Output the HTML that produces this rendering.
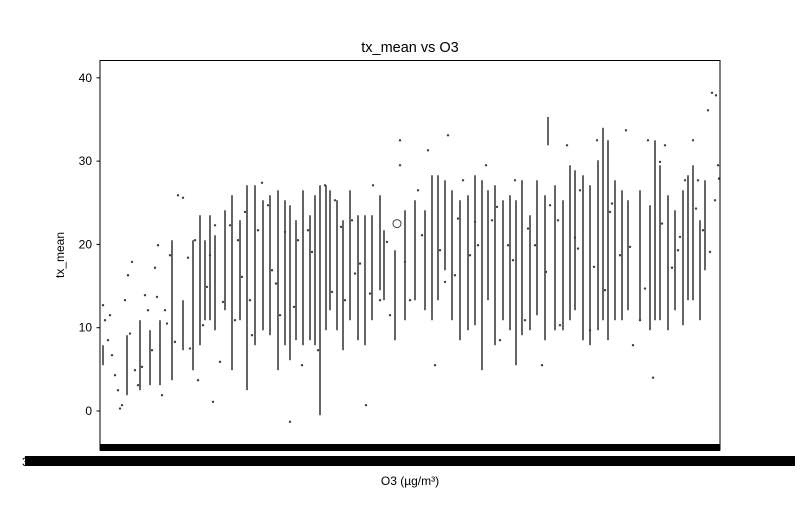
<!DOCTYPE html>
<html><head><meta charset="utf-8"><style>
body{margin:0;background:#fff}
svg text{font-family:"Liberation Sans",sans-serif;fill:#000}
</style></head><body>
<svg id="chart" width="800" height="500" xmlns="http://www.w3.org/2000/svg">
<rect width="800" height="500" fill="#fff"/>
<g id="marks"></g>
<text x="410" y="52" font-size="14.5" text-anchor="middle">tx_mean vs O3</text>
<text transform="translate(64,255) rotate(-90)" font-size="12" text-anchor="middle">tx_mean</text>
<text x="410" y="485" font-size="12" text-anchor="middle">O3 (µg/m³)</text>
<g id="yaxis"></g>
<rect x="100" y="444" width="620" height="7" fill="#000"/>
<rect x="25" y="456" width="770" height="10" fill="#000"/>
<text x="22" y="466" font-size="12">3</text>
<rect x="100" y="60.5" width="620" height="389.5" fill="none" stroke="#000" stroke-width="1"/>
</svg>
<script>
// categories are O3 category indices (0..620)
const yTicks=[0,10,20,30,40];
const lineCat=[3,27,40,50,60,72,83,93,100,105,110,115,125,132,140,147,155,163,170,178,185,190,196,203,210,215,220,226,230,237,243,250,258,265,272,280,284,295,305,315,325,332,338,345,352,360,368,375,382,388,395,403,410,416,422,430,437,445,448,455,463,470,475,483,490,498,503,508,515,522,528,540,550,555,560,568,575,583,588,593,600,605];
const lineHi=[7.9,9.1,10.9,9.7,10.9,20.5,13.3,20.5,23.5,20.5,23.5,21.1,24.1,25.9,22.9,27.1,27.1,25.3,25.9,26.5,25.3,24.7,22.9,26.5,23.5,25.9,27.1,27.1,26.5,25.3,22.9,26.5,23.5,23.5,23.5,25.9,21.7,19.3,24.1,25.3,24.1,28.3,28.3,27.7,26.5,25.3,25.9,28.3,27.7,26.5,27.1,25.3,25.9,25.3,27.7,23.5,27.7,25.9,35.3,27.1,25.3,29.5,28.9,28.3,27.1,30.1,34.0,32.5,27.7,26.5,25.3,26.5,24.7,32.5,29.5,25.9,24.1,26.5,28.3,29.5,22.9,27.7];
const lineLo=[5.5,1.9,2.5,3.1,3.1,3.7,7.3,4.9,7.9,10.9,10.9,9.7,12.1,4.9,10.9,2.5,7.9,9.7,9.1,4.9,7.9,6.1,8.5,7.9,8.5,7.9,-0.5,9.7,12.1,9.7,7.3,10.9,8.5,7.9,10.9,14.5,13.3,8.5,10.9,13.3,12.1,10.9,13.3,16.9,10.9,8.5,9.7,10.3,4.9,13.3,7.9,10.9,9.7,5.5,9.1,9.7,11.5,8.5,31.9,9.7,9.7,10.9,12.1,8.5,7.9,9.7,10.9,8.5,10.9,10.9,12.1,10.9,9.7,10.9,10.9,9.7,12.1,10.3,13.3,13.3,10.9,16.9];
const dotCat=[3,5,8,12,15,18,22,25,28,32,35,38,45,48,52,55,58,62,65,70,78,83,88,95,98,103,110,113,115,120,130,135,138,145,150,158,162,168,172,180,185,190,198,202,208,218,225,235,245,252,260,266,273,280,290,300,310,318,328,335,340,348,355,363,370,378,386,392,400,408,415,425,435,442,450,460,467,475,480,490,497,505,510,520,526,533,540,548,553,560,565,572,578,585,593,598,603,608,612,616,615,618,619,300,
  10,20,30,42,57,67,75,90,107,123,142,152,176,194,212,232,241,255,270,287,305,322,345,358,375,397,413,428,446,458,478,494,512,530,545,562,580,596,610];
const dotVal=[12.7,10.9,8.5,6.7,4.3,2.5,0.7,13.3,16.3,17.9,4.9,3.1,13.9,12.1,7.3,17.2,19.9,1.9,12.1,18.7,25.9,25.6,18.4,20.5,3.7,10.3,18.7,1.1,22.3,5.9,22.3,10.9,20.5,23.9,13.3,21.7,27.4,24.7,16.9,11.5,21.5,-1.3,20.5,5.5,21.7,7.3,27.1,25.3,13.3,22.9,17.7,0.7,27.1,13.3,11.5,29.5,13.3,26.5,31.3,5.5,19.3,33.1,16.3,27.7,18.7,19.9,29.5,22.9,8.5,19.9,27.7,10.9,19.9,5.5,24.7,10.3,31.9,20.8,26.5,9.7,32.5,14.5,23.9,18.7,33.7,7.9,10.9,32.5,4.0,29.9,31.9,17.2,19.3,27.7,32.5,27.7,21.7,36.1,38.2,37.9,25.3,29.5,27.9,32.5,
  11.5,0.3,9.3,5.3,13.7,10.5,8.3,7.5,14.9,13.1,16.1,9.1,15.3,12.5,19.1,14.3,22.1,16.5,14.1,20.3,17.9,21.1,15.5,23.1,22.7,24.5,18.1,21.9,16.7,22.9,19.5,17.3,24.9,19.7,14.7,22.5,20.9,24.3,19.1];
const outlierCat=[297];
const outlierVal=[22.5];

const X0=100,X1=720,Y0=60,Y1=450,VMIN=-4.68,VMAX=42.14;
const xs=c=>X0+c*(X1-X0)/620;
const ys=v=>Y1-(v-VMIN)*(Y1-Y0)/(VMAX-VMIN);
const NS='http://www.w3.org/2000/svg';
const g=document.getElementById('marks');
function mk(tag,attrs,parent){const e=document.createElementNS(NS,tag);for(const k in attrs)e.setAttribute(k,attrs[k]);parent.appendChild(e);return e;}
lineCat.forEach((c,i)=>{
  const hi=ys(lineHi[i]),lo=ys(lineLo[i]);
  const r=mk('rect',{x:xs(c)-0.8,y:hi,width:1.6,height:lo-hi,fill:'#3f3f3f'},g);
  
  
});
dotCat.forEach((c,i)=>{
  const d=mk('circle',{cx:xs(c),cy:ys(dotVal[i]),r:1.2,fill:'#3f3f3f'},g);
  
  
});
outlierCat.forEach((c,i)=>{
  const o=mk('circle',{cx:xs(c),cy:ys(outlierVal[i]),r:4,fill:'none',stroke:'#3f3f3f','stroke-width':1},g);
  
  
});
const ya=document.getElementById('yaxis');
yTicks.forEach(t=>{
  const y=ys(t);
  const l=mk('line',{x1:96.5,x2:100,y1:y,y2:y,stroke:'#000','stroke-width':1},ya);
  
  
  const tx=mk('text',{x:92,y:y+4,'font-size':12,'text-anchor':'end'},ya);
  tx.textContent=t;
  
  
});
</script>
</body></html>
